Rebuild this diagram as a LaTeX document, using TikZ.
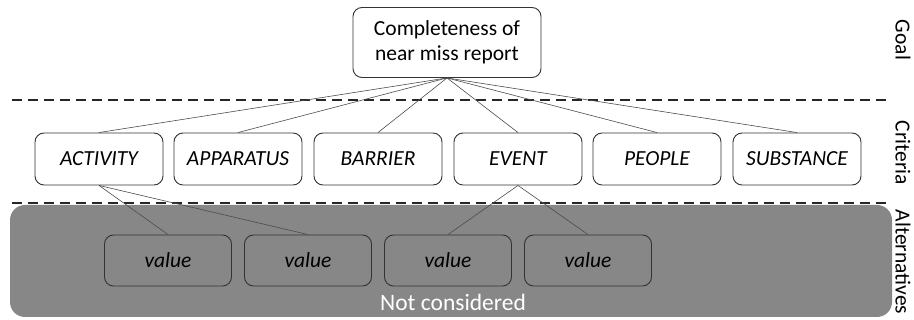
\documentclass[tikz,border=0pt]{standalone}
\usepackage{fontspec}
\setmainfont{Carlito}
\begin{document}
\begin{tikzpicture}[x=1pt,y=-1pt,
  box/.style={draw=black!80,line width=0.9pt,rounded corners=9pt,inner sep=0pt,align=center},
  goalbox/.style={box,fill=white,minimum width=188pt,minimum height=70pt,font=\fontsize{21.5}{25}\selectfont},
  critbox/.style={box,fill=white,minimum width=128pt,minimum height=52pt,font=\fontsize{21.5}{25}\selectfont\itshape},
  valbox/.style={box,minimum width=127pt,minimum height=51pt,font=\fontsize{21.5}{25}\selectfont\itshape},
  link/.style={draw=black!70,line width=0.6pt},
  sep/.style={draw=black!85,line width=1.6pt,dash pattern=on 10pt off 6pt},
  side/.style={rotate=-90,font=\fontsize{21.5}{25}\selectfont,anchor=center}]
\useasboundingbox (0,0) rectangle (914,320);

% alternatives band (not considered)
\fill[fill=black!47,rounded corners=15pt] (10,205) rectangle (892,317);
\node[text=white,font=\fontsize{23.5}{27}\selectfont] (nc) at (453,302) {Not considered};

% level separators
\coordinate (s1a) at (12,100);
\coordinate (s1b) at (886,100);
\coordinate (s2a) at (12,203);
\coordinate (s2b) at (886,203);
\draw[sep] (s1a) -- (s1b);
\draw[sep] (s2a) -- (s2b);

% goal
\node[goalbox] (goal) at (447,42.5) {Completeness of\\near miss report};

% criteria
\node[critbox] (act) at (99,159) {ACTIVITY};
\node[critbox] (app) at (238,159) {APPARATUS};
\node[critbox] (bar) at (378,159) {BARRIER};
\node[critbox] (evt) at (518,159) {EVENT};
\node[critbox] (peo) at (657,159) {PEOPLE};
\node[critbox] (sub) at (797,159) {SUBSTANCE};

% alternatives
\node[valbox] (v1) at (168,260.5) {value};
\node[valbox] (v2) at (308,260.5) {value};
\node[valbox] (v3) at (448,260.5) {value};
\node[valbox] (v4) at (588,260.5) {value};

% hierarchy links
\foreach \c in {act,app,bar,evt,peo,sub}
  \draw[link] (goal.south) -- (\c.north);
\draw[link] (act.south) -- (v1.north);
\draw[link] (act.south) -- (v2.north);
\draw[link] (evt.south) -- (v3.north);
\draw[link] (evt.south) -- (v4.north);

% level labels
\node[side] (lg) at (903,40) {Goal};
\node[side] (lc) at (903,153) {Criteria};
\node[side] (la) at (903,262) {Alternatives};
\end{tikzpicture}
\end{document}
